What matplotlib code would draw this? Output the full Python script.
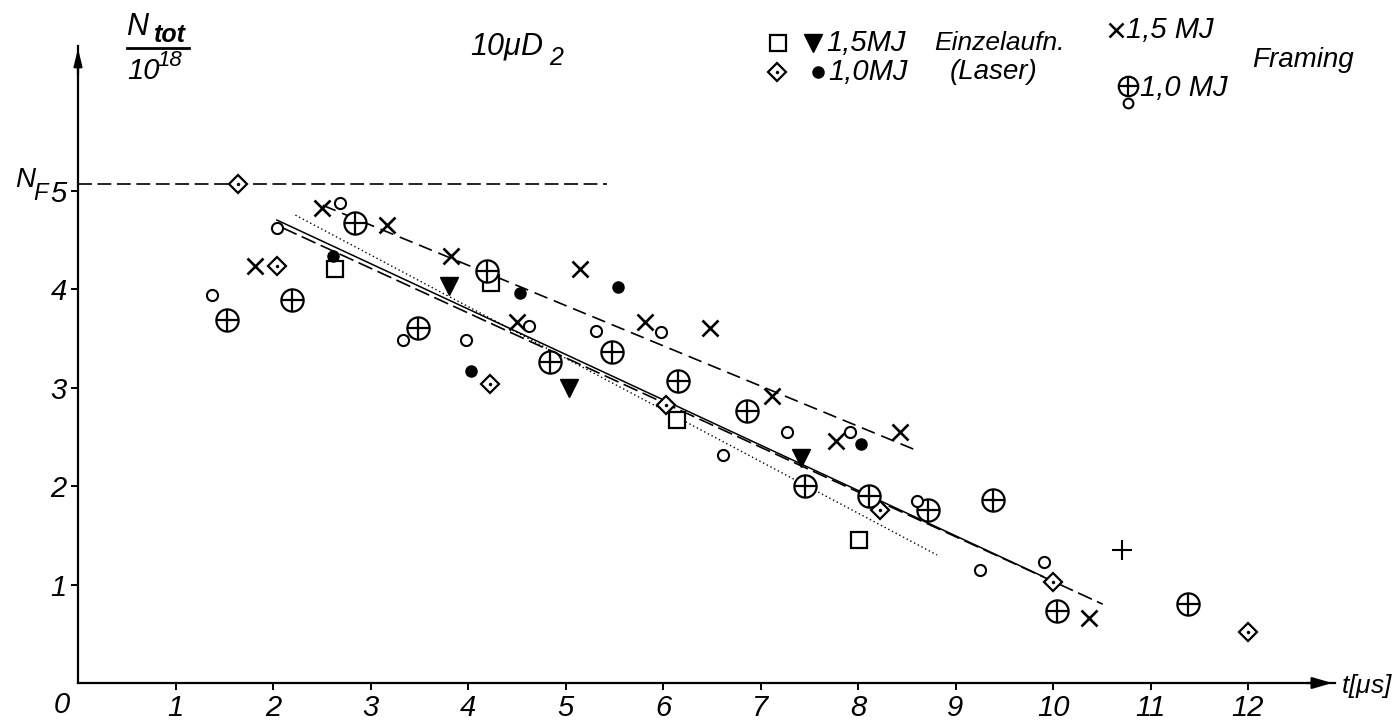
import numpy as np
import matplotlib.pyplot as plt
from matplotlib.lines import Line2D

plt.rcParams['font.family'] = ['Liberation Sans', 'DejaVu Sans']
plt.rcParams['font.style'] = 'italic'
plt.rcParams['mathtext.fontset'] = 'custom'
plt.rcParams['mathtext.it'] = 'Liberation Sans:italic'
plt.rcParams['mathtext.rm'] = 'Liberation Sans:italic'
plt.rcParams['lines.scale_dashes'] = False

# 1,5 MJ Einzelaufnahmen (Laser)
sq_t = [2.64, 4.24, 6.14, 8.01]
sq_n = [4.20, 4.06, 2.67, 1.45]
tri_t = [3.81, 5.04, 7.42]
tri_n = [4.03, 2.99, 2.28]

# 1,0 MJ Einzelaufnahmen (Laser)
dia_t = [1.64, 2.04, 4.23, 6.03, 8.23, 10.00, 12.00]
dia_n = [5.07, 4.23, 3.04, 2.82, 1.76, 1.03, 0.52]
dot_t = [2.62, 4.03, 4.53, 5.54, 8.03]
dot_n = [4.33, 3.17, 3.96, 4.02, 2.43]

# Framing 1,5 MJ
x_t = [1.82, 2.50, 3.17, 3.83, 4.50, 5.15, 5.82, 6.48, 7.12, 7.77, 8.43, 10.37]
x_n = [4.23, 4.82, 4.65, 4.33, 3.67, 4.20, 3.67, 3.60, 2.91, 2.46, 2.55, 0.66]

# Framing 1,0 MJ
oplus_t = [1.53, 2.19, 2.84, 3.49, 4.19, 4.84, 5.48, 6.15, 6.86, 7.46, 8.11, 8.72, 9.38, 10.04, 11.38]
oplus_n = [3.69, 3.89, 4.67, 3.60, 4.18, 3.26, 3.36, 3.07, 2.76, 2.00, 1.90, 1.76, 1.86, 0.73, 0.80]
circ_t = [1.37, 2.04, 2.69, 3.33, 3.98, 4.63, 5.31, 5.98, 6.62, 7.27, 7.92, 8.61, 9.25, 9.91]
circ_n = [3.94, 4.62, 4.87, 3.48, 3.48, 3.62, 3.57, 3.56, 2.31, 2.55, 2.55, 1.85, 1.15, 1.23]

plus_t = [10.71]
plus_n = [1.35]

# Ausgleichsgeraden
upper_t = [2.51, 8.58]
upper_n = [4.85, 2.37]
solid_t = [2.04, 9.90]
solid_n = [4.70, 1.08]
dash_t = [2.10, 10.51]
dash_n = [4.62, 0.80]
dot_line_t = [2.23, 8.81]
dot_line_n = [4.75, 1.30]
nf_t = [0.0, 5.43]
nf_n = [5.07, 5.07]

W, H = 1393, 728


def fx(px):
    return px / W


def fy(py):
    return 1 - py / H


fig = plt.figure(figsize=(W / 100, H / 100), dpi=100)
ax = fig.add_axes([fx(78), fy(683), (1335 - 78) / W, (683 - 46) / H])
ax.set_xlim(0, (1335 - 78) / 97.5)
ax.set_ylim(0, (683 - 46) / 98.5)

for s in ['top', 'right']:
    ax.spines[s].set_visible(False)
for s in ['left', 'bottom']:
    ax.spines[s].set_linewidth(1.6)

ax.set_xticks(range(1, 13))
ax.set_yticks(range(1, 6))
ax.tick_params(direction='out', length=5, width=1.4, labelsize=21, pad=3)

# axis arrows
ax.annotate('', xy=(1, 0), xytext=(0.975, 0), xycoords='axes fraction',
            arrowprops=dict(arrowstyle='-|>,head_length=1.2,head_width=0.35', color='k', lw=1.6))
ax.annotate('', xy=(0, 1), xytext=(0, 0.95), xycoords='axes fraction',
            arrowprops=dict(arrowstyle='-|>,head_length=1.0,head_width=0.25', color='k', lw=1.6))

# lines
ax.plot(nf_t, nf_n, color='k', lw=1.2, dashes=(10, 4))
ax.plot(upper_t, upper_n, color='k', lw=1.2, dashes=(10, 5))
ax.plot(solid_t, solid_n, color='k', lw=1.1)
ax.plot(dash_t, dash_n, color='k', lw=1.2, dashes=(11, 4))
ax.plot(dot_line_t, dot_line_n, color='k', lw=1.0, dashes=(1, 2))

mk = dict(linestyle='none', color='k', mec='k')
ax.plot(sq_t, sq_n, marker='s', ms=11, mfc='white', mew=1.6, **mk)
ax.plot(tri_t, tri_n, marker='v', ms=13, mfc='k', mew=1.0, **mk)
ax.plot(dia_t, dia_n, marker='D', ms=9.5, mfc='white', mew=1.6, **mk)
ax.plot(dia_t, dia_n, marker='o', ms=2.5, mfc='k', mew=0, **mk)
ax.plot(dot_t, dot_n, marker='o', ms=8, mfc='k', mew=1.0, **mk)
ax.plot(x_t, x_n, marker='x', ms=11, mew=1.9, **mk)
ax.plot(oplus_t, oplus_n, marker='o', ms=16, mfc='white', mew=1.6, **mk)
ax.plot(oplus_t, oplus_n, marker='+', ms=16, mew=1.6, **mk)
ax.plot(circ_t, circ_n, marker='o', ms=8, mfc='white', mew=1.5, **mk)
ax.plot(plus_t, plus_n, marker='+', ms=14, mew=1.5, **mk)

# labels
fig.text(fx(126), fy(27), 'N', ha='left', va='center', fontsize=22)
fig.text(fx(154), fy(35), 'tot', ha='left', va='center', fontsize=18, fontweight='bold')
fig.add_artist(Line2D([fx(127), fx(189)], [fy(48), fy(48)], color='k', lw=2))
fig.text(fx(127), fy(71), '10', ha='left', va='center', fontsize=21)
fig.text(fx(157), fy(61), '18', ha='left', va='center', fontsize=16)
fig.text(fx(470), fy(46), r'$10\mu D$', ha='left', va='center', fontsize=22)
fig.text(fx(549), fy(58), '2', ha='left', va='center', fontsize=18)
fig.text(fx(15), fy(180), 'N', ha='left', va='center', fontsize=20)
fig.text(fx(33), fy(193), 'F', ha='left', va='center', fontsize=17)
fig.text(fx(62), fy(705), '0', ha='center', va='center', fontsize=21)
fig.text(fx(1341), fy(686), r't[$\mu$s]', ha='left', va='center', fontsize=19)

# legend
lg = dict(linestyle='none', color='k', mec='k', transform=fig.transFigure)
fig.add_artist(Line2D([fx(778)], [fy(43)], marker='s', ms=11, mfc='white', mew=1.6, **lg))
fig.add_artist(Line2D([fx(813)], [fy(43)], marker='v', ms=13, mfc='k', **lg))
fig.add_artist(Line2D([fx(777)], [fy(72)], marker='D', ms=9.5, mfc='white', mew=1.6, **lg))
fig.add_artist(Line2D([fx(777)], [fy(72)], marker='o', ms=2.5, mfc='k', mew=0, **lg))
fig.add_artist(Line2D([fx(818)], [fy(72)], marker='o', ms=8, mfc='k', **lg))
fig.add_artist(Line2D([fx(1116)], [fy(30)], marker='x', ms=10, mew=1.8, **lg))
fig.add_artist(Line2D([fx(1128)], [fy(86)], marker='o', ms=14, mfc='white', mew=1.6, **lg))
fig.add_artist(Line2D([fx(1128)], [fy(86)], marker='+', ms=14, mew=1.6, **lg))
fig.add_artist(Line2D([fx(1128)], [fy(103)], marker='o', ms=7, mfc='white', mew=1.5, **lg))

fig.text(fx(826), fy(43), '1,5MJ', ha='left', va='center', fontsize=21)
fig.text(fx(934), fy(43), 'Einzelaufn.', ha='left', va='center', fontsize=19)
fig.text(fx(828), fy(72), '1,0MJ', ha='left', va='center', fontsize=21)
fig.text(fx(950), fy(72), '(Laser)', ha='left', va='center', fontsize=20)
fig.text(fx(1126), fy(30), '1,5 MJ', ha='left', va='center', fontsize=21)
fig.text(fx(1252), fy(60), 'Framing', ha='left', va='center', fontsize=20)
fig.text(fx(1140), fy(88), '1,0 MJ', ha='left', va='center', fontsize=21)

fig.savefig('out.png', dpi=100, facecolor='white')
